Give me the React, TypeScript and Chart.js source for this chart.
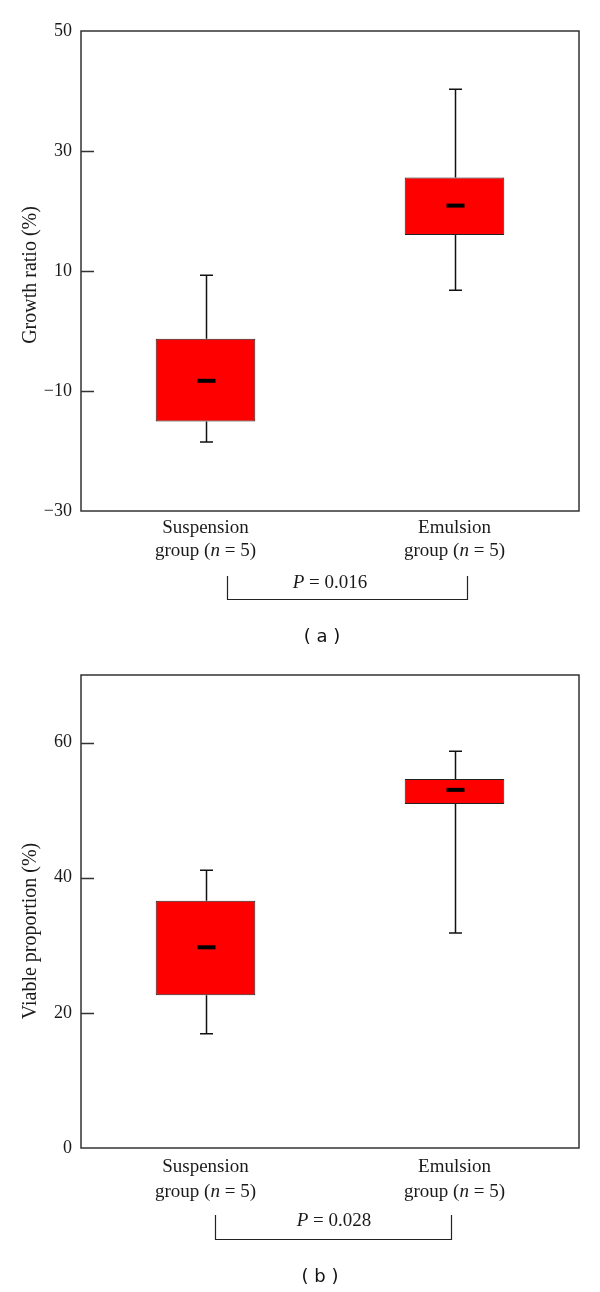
import React, { useEffect, useRef } from "react";
import { Chart, registerables } from "chart.js";

Chart.register(...registerables);

// ---------- data ----------
const categories = ["Suspension", "Emulsion"];
const sampleSizes = [5, 5];

// Panel (a): growth ratio (%)
const growthMin = [-18.5, 6.8];
const growthQ1 = [-15.1, 16.0];
const growthMedian = [-8.3, 20.9];
const growthQ3 = [-1.3, 25.6];
const growthMax = [9.3, 40.3];
const growthTicks = [-30, -10, 10, 30, 50];
const growthP = "0.016";

// Panel (b): viable proportion (%)
const viableMin = [16.9, 31.8];
const viableQ1 = [22.6, 50.9];
const viableMedian = [29.7, 53.0];
const viableQ3 = [36.6, 54.6];
const viableMax = [41.1, 58.7];
const viableTicks = [0, 20, 40, 60];
const viableP = "0.028";

// ---------- styling / layout ----------
const SERIF = "'Liberation Serif', 'Times New Roman', serif";
const SANS = "'DejaVu Sans', sans-serif";
const W = 600;
const H = 646;
const TEXT = "#1a1a1a";

type PanelSpec = {
  min: number[];
  q1: number[];
  median: number[];
  q3: number[];
  max: number[];
  ticks: number[];
  yMin: number;
  yMax: number;
  title: string;
  titleY: number;
  pValue: string;
  caption: string;
  padTop: number;
  padBottom: number;
  label1Dy: number;
  label2Dy: number;
  bracket: { x1: number; x2: number; yTop: number; yBot: number };
  pX: number;
  pY: number;
  captionX: number;
  captionY: number;
};

const panelA: PanelSpec = {
  min: growthMin,
  q1: growthQ1,
  median: growthMedian,
  q3: growthQ3,
  max: growthMax,
  ticks: growthTicks,
  yMin: -30,
  yMax: 50,
  title: "Growth ratio (%)",
  titleY: 275,
  pValue: growthP,
  caption: "( a )",
  padTop: 31,
  padBottom: H - 511,
  label1Dy: 17,
  label2Dy: 40,
  bracket: { x1: 227, x2: 467, yTop: 576, yBot: 599 },
  pX: 330,
  pY: 583,
  captionX: 322,
  captionY: 637,
};

const panelB: PanelSpec = {
  min: viableMin,
  q1: viableQ1,
  median: viableMedian,
  q3: viableQ3,
  max: viableMax,
  ticks: viableTicks,
  yMin: 0,
  yMax: 70,
  title: "Viable proportion (%)",
  titleY: 285,
  pValue: viableP,
  caption: "( b )",
  padTop: 29,
  padBottom: H - 502,
  label1Dy: 19,
  label2Dy: 44,
  bracket: { x1: 215, x2: 451, yTop: 569, yBot: 593 },
  pX: 334,
  pY: 575,
  captionX: 320,
  captionY: 631,
};

function fmtTick(v: number) {
  return v < 0 ? "\u2212" + Math.abs(v) : String(v);
}

function makePlugin(p: PanelSpec) {
  return {
    id: "boxExtras",
    afterDatasetsDraw(chart: any) {
      const ctx: CanvasRenderingContext2D = chart.ctx;
      const xs = chart.scales.x;
      const ys = chart.scales.y;
      const ca = chart.chartArea;
      ctx.save();

      // whiskers, caps, medians
      categories.forEach((_, i) => {
        const cx = Math.round(xs.getPixelForValue(i)) + 0.5;
        const yMinPx = ys.getPixelForValue(p.min[i]);
        const yMaxPx = ys.getPixelForValue(p.max[i]);
        const yQ1 = ys.getPixelForValue(p.q1[i]);
        const yQ3 = ys.getPixelForValue(p.q3[i]);
        const yMed = ys.getPixelForValue(p.median[i]);
        ctx.strokeStyle = "#111";
        ctx.lineWidth = 1.5;
        ctx.beginPath();
        ctx.moveTo(cx, yQ3);
        ctx.lineTo(cx, yMaxPx);
        ctx.moveTo(cx, yQ1);
        ctx.lineTo(cx, yMinPx);
        ctx.moveTo(cx - 6.5, yMaxPx);
        ctx.lineTo(cx + 6.5, yMaxPx);
        ctx.moveTo(cx - 6.5, yMinPx);
        ctx.lineTo(cx + 6.5, yMinPx);
        ctx.stroke();
        ctx.fillStyle = "#000";
        ctx.fillRect(cx - 9, yMed - 2, 18, 4);
      });

      // frame
      ctx.strokeStyle = "#333";
      ctx.lineWidth = 1.5;
      ctx.strokeRect(ca.left, ca.top, ca.right - ca.left, ca.bottom - ca.top);

      // inner tick marks
      ctx.beginPath();
      ys.ticks.forEach((t: any) => {
        if (t.value > ys.min && t.value < ys.max) {
          const py = Math.round(ys.getPixelForValue(t.value)) + 0.5;
          ctx.moveTo(ca.left, py);
          ctx.lineTo(ca.left + 13, py);
        }
      });
      ctx.stroke();

      // category labels
      const LF = 19;
      ctx.fillStyle = TEXT;
      ctx.textBaseline = "middle";
      categories.forEach((cat, i) => {
        const cx = xs.getPixelForValue(i);
        ctx.font = `${LF}px ${SERIF}`;
        ctx.textAlign = "center";
        ctx.fillText(cat, cx, ca.bottom + p.label1Dy);
        const a = "group (";
        const c = " = " + sampleSizes[i] + ")";
        const wa = ctx.measureText(a).width;
        const wc = ctx.measureText(c).width;
        ctx.font = `italic ${LF}px ${SERIF}`;
        const wn = ctx.measureText("n").width;
        const start = cx - (wa + wn + wc) / 2;
        ctx.textAlign = "left";
        const ly = ca.bottom + p.label2Dy;
        ctx.font = `${LF}px ${SERIF}`;
        ctx.fillText(a, start, ly);
        ctx.font = `italic ${LF}px ${SERIF}`;
        ctx.fillText("n", start + wa, ly);
        ctx.font = `${LF}px ${SERIF}`;
        ctx.fillText(c, start + wa + wn, ly);
      });

      // bracket
      const b = p.bracket;
      ctx.strokeStyle = "#222";
      ctx.lineWidth = 1.2;
      ctx.beginPath();
      ctx.moveTo(b.x1 + 0.5, b.yTop);
      ctx.lineTo(b.x1 + 0.5, b.yBot + 0.5);
      ctx.lineTo(b.x2 + 0.5, b.yBot + 0.5);
      ctx.lineTo(b.x2 + 0.5, b.yTop);
      ctx.stroke();

      // P value
      ctx.font = `italic ${LF}px ${SERIF}`;
      const wP = ctx.measureText("P").width;
      ctx.font = `${LF}px ${SERIF}`;
      const rest = " = " + p.pValue;
      const wR = ctx.measureText(rest).width;
      const ps = p.pX - (wP + wR) / 2;
      ctx.textAlign = "left";
      ctx.font = `italic ${LF}px ${SERIF}`;
      ctx.fillText("P", ps, p.pY);
      ctx.font = `${LF}px ${SERIF}`;
      ctx.fillText(rest, ps + wP, p.pY);

      // caption
      ctx.font = `18px ${SANS}`;
      ctx.textAlign = "center";
      ctx.fillStyle = "#111";
      ctx.fillText(p.caption, p.captionX, p.captionY);

      // y title
      ctx.save();
      ctx.translate(31, p.titleY);
      ctx.rotate(-Math.PI / 2);
      ctx.font = `20px ${SERIF}`;
      ctx.fillStyle = TEXT;
      ctx.textAlign = "center";
      ctx.textBaseline = "middle";
      ctx.fillText(p.title, 0, 0);
      ctx.restore();

      ctx.restore();
    },
  };
}

function Panel({ spec }: { spec: PanelSpec }) {
  const ref = useRef<HTMLCanvasElement>(null);
  useEffect(() => {
    const chart = new Chart(ref.current as HTMLCanvasElement, {
      type: "bar",
      data: {
        labels: categories,
        datasets: [
          {
            data: categories.map((_, i) => [spec.q1[i], spec.q3[i]]) as any,
            backgroundColor: "#ff0000",
            borderColor: "#222",
            borderWidth: 1,
            borderSkipped: false,
            barPercentage: 0.8,
            categoryPercentage: 0.5,
          },
        ],
      },
      options: {
        responsive: false,
        animation: false,
        devicePixelRatio: 1,
        layout: {
          padding: { top: spec.padTop, right: W - 579, bottom: spec.padBottom, left: 0 },
        },
        plugins: {
          legend: { display: false },
          tooltip: { enabled: false },
        },
        scales: {
          x: {
            type: "category",
            display: false,
            offset: true,
          },
          y: {
            min: spec.yMin,
            max: spec.yMax,
            afterBuildTicks: (s: any) => {
              s.ticks = spec.ticks.map((v) => ({ value: v }));
            },
            afterFit: (s: any) => {
              s.width = 81;
            },
            grid: { display: false, drawTicks: false },
            border: { display: false },
            ticks: {
              padding: 9,
              color: TEXT,
              font: { size: 18, family: SERIF },
              callback: (v: any) => fmtTick(Number(v)),
            },
          },
        },
      },
      plugins: [makePlugin(spec)],
    });
    return () => chart.destroy();
  }, [spec]);
  return (
    <canvas
      ref={ref}
      width={W}
      height={H}
      style={{ display: "block", width: W, height: H }}
    />
  );
}

export default function App() {
  return (
    <div
      style={{
        position: "absolute",
        left: 0,
        top: 0,
        width: W,
        height: H * 2,
        background: "#fff",
      }}
    >
      <Panel spec={panelA} />
      <Panel spec={panelB} />
    </div>
  );
}
